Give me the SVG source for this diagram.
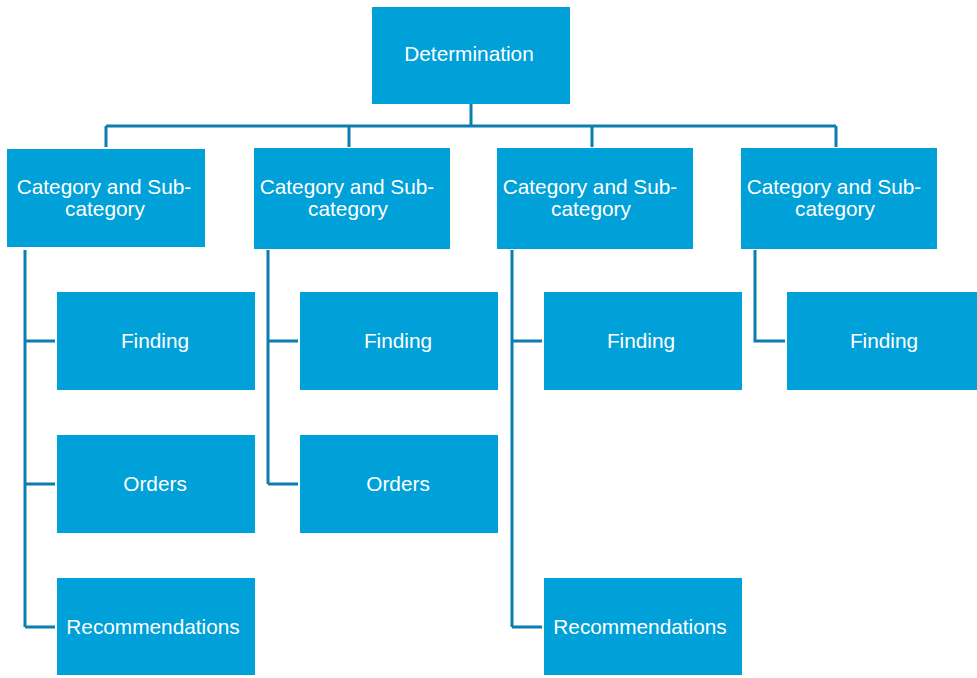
<svg xmlns="http://www.w3.org/2000/svg" width="977" height="678" viewBox="0 0 977 678">
<style>
.box{fill:#00A0D8;}
.t{fill:#FFFFFF;font-family:"Liberation Sans",Arial,sans-serif;font-size:20.8px;text-anchor:middle;}
.c{fill:none;stroke:#0B7DB0;stroke-width:3;}
</style>
<rect width="977" height="678" fill="#FFFFFF"/>
<g id="connectors">
<path class="c" d="M471 104V126M106 126H836M106 126V147M349 126V147M592 126V147M836 126V147"/>
<path class="c" d="M25 250V627M25 341H55M25 484H55M25 627H55"/>
<path class="c" d="M268 250V484M268 341H298M268 484H298"/>
<path class="c" d="M512 250V627M512 341H542M512 627H542"/>
<path class="c" d="M755 250V341H785"/>
</g>
<g id="determination"><rect class="box" x="372" y="7" width="198" height="97"/><text class="t" x="469" y="61">Determination</text></g>
<g id="category1"><rect class="box" x="7" y="149" width="198" height="98"/><text class="t" x="104" y="194">Category and Sub-</text><text class="t" x="105" y="216">category</text></g>
<g id="category2"><rect class="box" x="254" y="148" width="196" height="101"/><text class="t" x="347" y="194">Category and Sub-</text><text class="t" x="348" y="216">category</text></g>
<g id="category3"><rect class="box" x="497" y="148" width="196" height="101"/><text class="t" x="590" y="194">Category and Sub-</text><text class="t" x="591" y="216">category</text></g>
<g id="category4"><rect class="box" x="741" y="148" width="196" height="101"/><text class="t" x="834" y="194">Category and Sub-</text><text class="t" x="835" y="216">category</text></g>
<g id="finding1"><rect class="box" x="57" y="292" width="198" height="98"/><text class="t" x="155" y="348">Finding</text></g>
<g id="orders1"><rect class="box" x="57" y="435" width="198" height="98"/><text class="t" x="155" y="491">Orders</text></g>
<g id="recommendations1"><rect class="box" x="57" y="578" width="198" height="97"/><text class="t" x="153" y="634">Recommendations</text></g>
<g id="finding2"><rect class="box" x="300" y="292" width="198" height="98"/><text class="t" x="398" y="348">Finding</text></g>
<g id="orders2"><rect class="box" x="300" y="435" width="198" height="98"/><text class="t" x="398" y="491">Orders</text></g>
<g id="finding3"><rect class="box" x="544" y="292" width="198" height="98"/><text class="t" x="641" y="348">Finding</text></g>
<g id="recommendations3"><rect class="box" x="544" y="578" width="198" height="97"/><text class="t" x="640" y="634">Recommendations</text></g>
<g id="finding4"><rect class="box" x="787" y="292" width="190" height="98"/><text class="t" x="884" y="348">Finding</text></g>
</svg>
